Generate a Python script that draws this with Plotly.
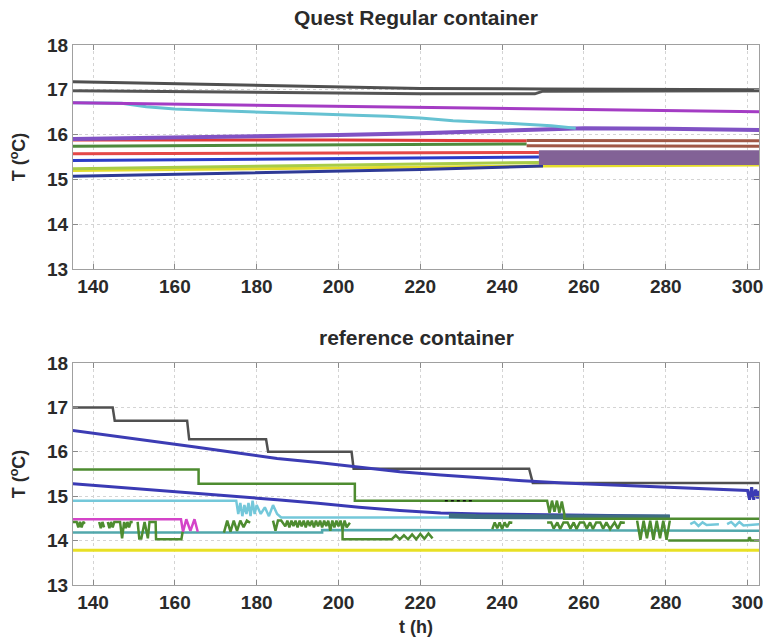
import plotly.graph_objects as go

# ---------------- DATA ----------------
X_TICKS = [140, 160, 180, 200, 220, 240, 260, 280, 300]
Y_TICKS = [13, 14, 15, 16, 17, 18]
TITLE_TOP = "Quest Regular container"
TITLE_BOT = "reference container"

# --- top panel (Quest Regular container) ---
top_yellow_t = [135, 250, 303];                 top_yellow_v = [15.20, 15.30, 15.32]
top_navy_t = [135, 180, 220, 250];              top_navy_v = [15.07, 15.15, 15.22, 15.30]
top_ygreen_t = [135, 200, 249];                 top_ygreen_v = [15.24, 15.32, 15.38]
top_blue_t = [135, 200, 249];                   top_blue_v = [15.42, 15.47, 15.50]
top_red2_t = [135, 200, 249];                   top_red2_v = [15.57, 15.58, 15.60]
top_green_t = [135, 200, 246];                  top_green_v = [15.74, 15.77, 15.79]
top_red1_t = [135, 200, 246];                   top_red1_v = [15.88, 15.88, 15.86]
top_violet_t = [135, 160, 180, 200, 220, 240, 260, 280, 303]
top_violet_v = [15.90, 15.93, 15.96, 15.99, 16.03, 16.08, 16.14, 16.13, 16.10]
top_cyan_t = [135, 147, 153, 160, 171, 183, 195, 204, 212, 220, 228, 240, 252, 258]
top_cyan_v = [16.71, 16.70, 16.62, 16.57, 16.53, 16.50, 16.46, 16.43, 16.41, 16.37, 16.31, 16.26, 16.20, 16.14]
top_magenta_t = [135, 180, 220, 260, 303];      top_magenta_v = [16.71, 16.66, 16.61, 16.57, 16.51]
top_grayb_t = [135, 180, 220, 248, 250, 303];   top_grayb_v = [16.98, 16.95, 16.91, 16.91, 16.97, 16.98]
top_graya_t = [135, 180, 220, 250, 303];        top_graya_v = [17.18, 17.10, 17.03, 17.02, 17.00]
top_brown1_t = [246, 303];                      top_brown1_v = [15.87, 15.86]
top_brown2_t = [246, 303];                      top_brown2_v = [15.75, 15.74]
top_purple_band_t = [249, 303]
top_purple_band_levels = [15.60, 15.52, 15.44, 15.37]

# --- bottom panel (reference container) ---
bot_yellow_t = [135, 303];                      bot_yellow_v = [13.78, 13.78]
bot_teal_t = [135, 196, 196, 303];              bot_teal_v = [14.18, 14.18, 14.24, 14.22]
bot_cyan_t = [135, 175, 175.5, 176, 176.5, 177, 177.5, 178, 178.5, 179, 179.5, 180, 181, 182, 183, 184, 185, 186, 233.6]
bot_cyan_v = [14.90, 14.90, 14.60, 14.85, 14.55, 14.80, 14.60, 14.85, 14.55, 14.90, 14.60, 14.80, 14.60, 14.75, 14.55, 14.80, 14.60, 14.52, 14.52]
bot_cyan2_t = [286, 287, 288, 289, 290, 293, None, 295, 296, 297, 298, 299, 303]
bot_cyan2_v = [14.37, 14.42, 14.33, 14.41, 14.35, 14.37, None, 14.37, 14.42, 14.33, 14.42, 14.34, 14.37]
bot_magenta_t = [135, 161.5, 162, 162.8, 163.8, 164.8, 165.6]
bot_magenta_v = [14.48, 14.48, 14.20, 14.48, 14.22, 14.48, 14.20]
bot_gn1_t = [135.1, 136.0, 136.4, 136.8, 137.2, 137.6, 138.0, None, 141.5, 141.9, 142.3, 142.7, None,
             143.6, 144.0, 144.4, 144.8, 145.2, 146.6, 147.1, 147.6, 148.0, 148.4, 148.8, 149.2, 149.7, None,
             150.9, 151.3, 151.8, 152.6, 153.4, 153.8, 154.2, 155.3, 155.4, 161.6, 161.9]
bot_gn1_v = [14.42, 14.42, 14.30, 14.42, 14.30, 14.42, 14.38, None, 14.42, 14.28, 14.42, 14.30, None,
             14.42, 14.28, 14.42, 14.30, 14.42, 14.42, 14.05, 14.42, 14.28, 14.42, 14.30, 14.42, 14.42, None,
             14.42, 14.05, 14.05, 14.42, 14.05, 14.42, 14.42, 14.42, 14.03, 14.03, 14.20]
bot_gn2_t = [172, 172.8, 173.6, 174.4, 175.2, 176, 176.8, 177.6, 178.4]
bot_gn2_v = [14.18, 14.45, 14.20, 14.45, 14.22, 14.45, 14.30, 14.45, 14.40]
bot_gn3_t = [184, 184.6, 185.2, 186, 187, 187.5, 188, 188.5, 189, 189.5, 190, 190.5, 191, 191.5, 192, 192.5,
             193, 193.5, 194, 194.5, 195, 195.5, 196, 196.5, 197, 197.5, 198, 198.5, 199, 199.5, 200, 200.5,
             201, 201.5, 202, 202.8]
bot_gn3_v = [14.45, 14.22, 14.45, 14.45, 14.32, 14.45, 14.30, 14.45, 14.33, 14.45, 14.30, 14.45, 14.32, 14.45, 14.30, 14.45,
             14.33, 14.45, 14.30, 14.45, 14.32, 14.45, 14.30, 14.45, 14.33, 14.45, 14.22, 14.45, 14.30, 14.45, 14.32, 14.45,
             14.25, 14.45, 14.30, 14.40]
bot_glow_t = [201, 201, 213, 214, 215, 216, 217, 218, 219, 220, 221, 222, 223]
bot_glow_v = [14.30, 14.03, 14.03, 14.12, 14.03, 14.12, 14.03, 14.14, 14.03, 14.15, 14.04, 14.16, 14.05]
bot_gn4_t = [237.6, 238.2, 238.8, 239.4, 240.0, 240.6, 241.2, 241.8, 242.5]
bot_gn4_v = [14.26, 14.41, 14.28, 14.41, 14.26, 14.41, 14.30, 14.41, 14.40]
bot_gn5_t = [251, 252, 252.6, 253.5, 254.2, 255, 256, 256.7, 257.5, 258.2, 259, 260, 260.7, 261.5, 262.2, 263,
             264, 264.7, 265.5, 266.4, 267.5, 268.3, 269, 270]
bot_gn5_v = [14.41, 14.41, 14.27, 14.41, 14.26, 14.41, 14.41, 14.27, 14.41, 14.26, 14.41, 14.41, 14.27, 14.41, 14.26, 14.41,
             14.41, 14.27, 14.41, 14.26, 14.41, 14.27, 14.41, 14.40]
bot_gn6_t = [273, 273.8, 274.6, 275.4, 276.2, 277, 277.8, 278.6, 279.4, 280.2, 281]
bot_gn6_v = [14.45, 14.02, 14.45, 14.05, 14.45, 14.02, 14.45, 14.05, 14.45, 14.02, 14.45]
bot_glow2_t = [280.6, 300.2, 300.5, 300.8, 303]
bot_glow2_v = [14.00, 14.00, 14.08, 14.00, 14.00]
bot_blue_low_t = [135, 145, 155, 165, 175, 185, 195, 205, 215, 225, 235, 245, 255, 265, 281]
bot_blue_low_v = [15.28, 15.21, 15.14, 15.06, 14.99, 14.92, 14.84, 14.75, 14.68, 14.62, 14.60, 14.59, 14.58, 14.57, 14.55]
bot_darkteal_t = [227, 233.6, 281];             bot_darkteal_v = [14.56, 14.54, 14.53]
bot_black_t = [226, 233];                       bot_black_v = [14.90, 14.90]
bot_green_step_t = [135, 165.8, 165.8, 204, 204, 251, 251.6, 252.2, 252.8, 253.4, 254, 254.6, 255.2, 255.2, 303]
bot_green_step_v = [15.60, 15.60, 15.28, 15.28, 14.90, 14.90, 14.62, 14.90, 14.65, 14.90, 14.62, 14.88, 14.60, 14.49, 14.49]
bot_gray_step_t = [135, 144.8, 145.3, 163, 163.5, 182.3, 182.8, 203.2, 203.7, 246.6, 247.5, 303]
bot_gray_step_v = [17.00, 17.00, 16.70, 16.70, 16.28, 16.28, 16.00, 16.00, 15.62, 15.62, 15.30, 15.30]
bot_blue_up_t = [135, 145, 155, 165, 175, 185, 195, 205, 215, 225, 235, 245, 255, 265, 275, 285, 295, 300,
                 300.5, 301, 301.5, 302, 302.5, 302.8]
bot_blue_up_v = [16.48, 16.36, 16.24, 16.11, 15.98, 15.85, 15.76, 15.65, 15.55, 15.48, 15.41, 15.35, 15.30, 15.26, 15.23, 15.19, 15.15, 15.13,
                 14.92, 15.20, 14.92, 15.15, 14.95, 15.12]

# ---------------- FIGURE ----------------
FONT = "Liberation Sans, Arial, sans-serif"
fig = go.Figure()


def add(t, v, color, width, row, dash=None):
    ax = "" if row == 1 else "2"
    fig.add_trace(go.Scatter(x=t, y=v, mode="lines", line=dict(color=color, width=width, dash=dash),
                             xaxis="x" + ax, yaxis="y" + ax, showlegend=False, hoverinfo="skip",
                             connectgaps=False))


# top panel
add(top_yellow_t, top_yellow_v, "#e4dc2c", 3, 1)
add(top_navy_t, top_navy_v, "#2e3a96", 3, 1)
add(top_ygreen_t, top_ygreen_v, "#a8cc48", 3, 1)
add(top_blue_t, top_blue_v, "#2a3cc8", 3, 1)
add(top_red2_t, top_red2_v, "#e44848", 3, 1)
add(top_green_t, top_green_v, "#4e8a3c", 3, 1)
add(top_red1_t, top_red1_v, "#e03a3a", 3, 1)
add(top_violet_t, top_violet_v, "#8052c4", 4, 1)
add(top_cyan_t, top_cyan_v, "#66c2d2", 3, 1)
add(top_magenta_t, top_magenta_v, "#a43cc4", 3, 1)
add(top_grayb_t, top_grayb_v, "#555555", 3, 1)
add(top_graya_t, top_graya_v, "#505050", 3, 1)
add(top_brown1_t, top_brown1_v, "#a05846", 3, 1)
add(top_brown2_t, top_brown2_v, "#a05846", 3, 1)
for lvl in top_purple_band_levels:
    add(top_purple_band_t, [lvl, lvl], "#826296", 4.5, 1)

# bottom panel
add(bot_yellow_t, bot_yellow_v, "#e8e024", 3, 2)
add(bot_teal_t, bot_teal_v, "#52a8ac", 2.5, 2)
add(bot_cyan_t, bot_cyan_v, "#74c8da", 2.5, 2)
add(bot_cyan2_t, bot_cyan2_v, "#74c8da", 2.5, 2)
add(bot_magenta_t, bot_magenta_v, "#d444c8", 2.5, 2)
for t, v in [(bot_gn1_t, bot_gn1_v), (bot_gn2_t, bot_gn2_v), (bot_gn3_t, bot_gn3_v), (bot_glow_t, bot_glow_v),
             (bot_gn4_t, bot_gn4_v), (bot_gn5_t, bot_gn5_v), (bot_gn6_t, bot_gn6_v), (bot_glow2_t, bot_glow2_v)]:
    add(t, v, "#4e8c30", 2.5, 2)
add(bot_blue_low_t, bot_blue_low_v, "#3a3ab4", 3, 2)
add(bot_darkteal_t, bot_darkteal_v, "#3e6e80", 5, 2)
add(bot_green_step_t, bot_green_step_v, "#4e8c30", 2.5, 2)
add(bot_black_t, bot_black_v, "#111111", 1.5, 2, dash="dot")
add(bot_gray_step_t, bot_gray_step_v, "#505050", 2.5, 2)
add(bot_blue_up_t, bot_blue_up_v, "#3c3cb4", 3, 2)

tickfont = dict(family=FONT, size=19, color="#2a2a2a", weight="bold")
xcommon = dict(range=[135.1, 302.8], tickmode="array", tickvals=X_TICKS, ticktext=[str(v) for v in X_TICKS],
               ticks="inside", ticklen=5, tickcolor="#8a8a8a", showline=True, linecolor="#a0a0a0", linewidth=1,
               mirror="ticks", showgrid=True, gridcolor="#d4d4d4", griddash="dot", gridwidth=1, zeroline=False,
               tickfont=tickfont)
ycommon = dict(range=[13, 18], tickmode="array", tickvals=Y_TICKS, ticktext=[str(v) for v in Y_TICKS],
               ticks="inside", ticklen=5, tickcolor="#8a8a8a", showline=True, linecolor="#a0a0a0", linewidth=1,
               mirror="ticks", showgrid=True, gridcolor="#d4d4d4", griddash="dot", gridwidth=1, zeroline=False,
               tickfont=tickfont,
               title=dict(text="T (<sup>o</sup>C)", font=dict(family=FONT, size=18, color="#2a2a2a", weight="bold"),
                          standoff=16))

top_lo = (585 - 269) / 540
bot_hi = (585 - 363) / 540

fig.update_layout(
    width=772, height=643,
    margin=dict(l=73, r=9, t=45, b=58),
    paper_bgcolor="white", plot_bgcolor="white",
    xaxis=dict(**xcommon, domain=[0, 1], anchor="y"),
    yaxis=dict(**ycommon, domain=[top_lo, 1], anchor="x"),
    xaxis2=dict(**xcommon, domain=[0, 1], anchor="y2",
                title=dict(text="t (h)", font=dict(family=FONT, size=18, color="#2a2a2a", weight="bold"),
                           standoff=8)),
    yaxis2=dict(**ycommon, domain=[0, bot_hi], anchor="x2"),
    annotations=[
        dict(text=TITLE_TOP, xref="paper", yref="paper", x=0.5, y=(585 - 18) / 540, showarrow=False,
             xanchor="center", yanchor="middle",
             font=dict(family=FONT, size=21, color="#2a2a2a", weight="bold")),
        dict(text=TITLE_BOT, xref="paper", yref="paper", x=0.5, y=(585 - 338) / 540, showarrow=False,
             xanchor="center", yanchor="middle",
             font=dict(family=FONT, size=21, color="#2a2a2a", weight="bold")),
    ],
)

fig.write_html("out.html")
